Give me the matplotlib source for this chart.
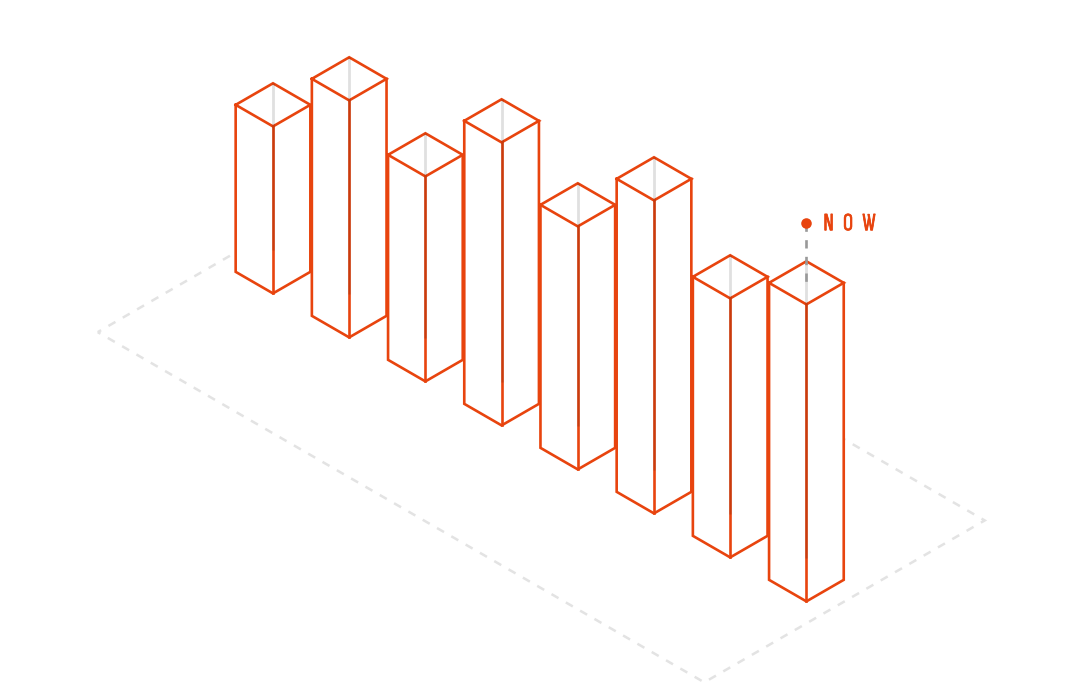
import matplotlib
matplotlib.use("Agg")
import matplotlib.pyplot as plt
import matplotlib.patheffects as pe
from matplotlib.patches import Polygon

# bar heights, front to back along the row
heights = [167, 237, 205, 283, 243, 313, 259, 297]
now_label = "N   O   W"
# floor extent in grid units (rows along the bar row, cols across it)
plane_rows = [-0.71, -0.71, 7.25, 7.25]
plane_cols = [-1.59, 2.09, 2.09, -1.59]

orange = "#e8440e"
half = 0.49  # footprint of one bar


# grid position + height -> pixel coords of the isometric drawing
def iso(row, col, h=0):
    return 273.0 + 76.2 * (row + col), 293.4 + 44 * (row - col) - h


plt.rcParams["lines.scale_dashes"] = False
fig = plt.figure(figsize=(10.8, 6.9), dpi=100)
ax = fig.add_axes([0, 0, 1, 1])
ax.set_xlim(0, 1080)
ax.set_ylim(690, 0)
ax.axis("off")

# floor
floor = [iso(r, c) for r, c in zip(plane_rows, plane_cols)]
ax.add_patch(Polygon(floor, closed=True, fill=False, edgecolor="#e3e3e3", lw=1.8,
                     linestyle=(3, (5.8, 6.1)), capstyle="butt", zorder=1))

# bars
for i, h in enumerate(heights):
    front = (i, 0)
    left = (i - half, 0)
    right = (i, half)
    back = (i - half, half)
    z = 2 + i

    outline = [iso(*left, h), iso(*back, h), iso(*right, h), iso(*right), iso(*front), iso(*left)]
    ax.add_patch(Polygon(outline, closed=True, facecolor="white", edgecolor="none", zorder=z))

    edges = [
        [iso(*left, h), iso(*back, h), iso(*right, h), iso(*front, h), iso(*left, h)],
        [iso(*left, h), iso(*left), iso(*front), iso(*right), iso(*right, h)],
        [iso(*front, h), iso(*front)],
    ]
    for e in edges:
        ax.plot([p[0] for p in e], [p[1] for p in e], color=orange, lw=1.9,
                solid_joinstyle="miter", zorder=z + 0.1)

    # hidden back edge shows through everything as a faint grey line
    bx0, by0 = iso(*back, h)
    bx1, by1 = iso(*back)
    ax.plot([bx0, bx1], [by0, by1], color="black", alpha=0.12, lw=2.0,
            solid_capstyle="butt", zorder=z + 0.2)

# NOW marker above the last bar
last = len(heights) - 1
nx, ny = iso(last - half, half, heights[last])
ax.plot([nx, nx], [ny - 38, ny + 24], color="#999999", lw=1.9,
        linestyle=(0, (6, 6)), dash_capstyle="butt", zorder=20)
ax.plot([nx], [ny - 38], "o", color=orange, ms=7.6, mew=0, zorder=21)
label = ax.text(nx + 17, ny - 37, now_label, color=orange, fontsize=18, va="center", ha="left",
                family=["Sofia Sans Extra Condensed", "Liberation Sans"], zorder=21)
label.set_path_effects([pe.withStroke(linewidth=0.5, foreground=orange)])

fig.savefig("out.png", dpi=100, facecolor="white")
